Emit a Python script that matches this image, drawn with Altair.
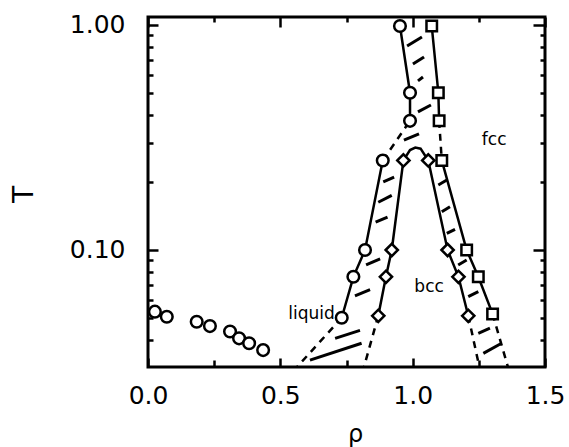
import altair as alt
import pandas as pd

# ---------------- data ----------------
# low-density liquid/gas state points (open circles, unconnected)
gas_rho = [0.026, 0.071, 0.184, 0.234, 0.310, 0.344, 0.382, 0.435]
gas_T = [0.0532, 0.0505, 0.0480, 0.0459, 0.0434, 0.0405, 0.0385, 0.0359]

# liquid-side coexistence boundary (circles)
liq_rho = [0.732, 0.776, 0.820, 0.887, 0.990, 0.990, 0.952]
liq_T = [0.050, 0.076, 0.100, 0.250, 0.375, 0.500, 0.990]

# fcc-side boundary (squares)
fcc_rho = [1.072, 1.097, 1.100, 1.110, 1.204, 1.248, 1.302]
fcc_T = [0.990, 0.500, 0.375, 0.250, 0.100, 0.076, 0.052]

# bcc boundaries (diamonds)
bccL_rho = [0.965, 0.921, 0.899, 0.870]
bccL_T = [0.250, 0.100, 0.076, 0.051]
bccR_rho = [1.059, 1.132, 1.173, 1.210]
bccR_T = [0.250, 0.100, 0.076, 0.051]

# top of the bcc region
arc_rho = [0.965, 0.990, 1.010, 1.030, 1.059]
arc_T = [0.250, 0.278, 0.285, 0.282, 0.250]

# extrapolated (dashed) ends at the bottom of the plot: liquid, bccL, bccR, fcc
ext_rho = [0.563, 0.816, 1.252, 1.360]
ext_T = [0.0302, 0.0302, 0.0302, 0.0302]

# hatch strokes in the coexistence regions
h_rho1 = [0.979, 1.001, 1.020, 1.020, 0.967,
          0.889, 0.870, 0.860, 0.824, 0.782, 0.707, 0.612,
          1.097, 1.110, 1.129, 1.172, 1.210, 1.248, 1.267]
h_T1 = [0.807, 0.671, 0.564, 0.411, 0.308,
        0.201, 0.163, 0.133, 0.0858, 0.0625, 0.0405, 0.0324,
        0.1945, 0.148, 0.1186, 0.0858, 0.0620, 0.0426, 0.0347]
h_rho2 = [1.035, 1.043, 1.039, 1.069, 1.024,
          0.930, 0.921, 0.905, 0.877, 0.839, 0.801, 0.807,
          1.129, 1.141, 1.160, 1.204, 1.248, 1.292, 1.336]
h_T2 = [0.884, 0.721, 0.587, 0.441, 0.328,
        0.211, 0.175, 0.140, 0.0912, 0.0667, 0.0439, 0.0385,
        0.2047, 0.1557, 0.1236, 0.0902, 0.0653, 0.0449, 0.0385]

# phase labels
lab_text = ["liquid", "bcc", "fcc"]
lab_rho = [0.618, 1.062, 1.308]
lab_T = [0.0494, 0.0653, 0.293]

# axes
x_major = [0.0, 0.5, 1.0, 1.5]
x_minor = [0.25, 0.75, 1.25]
y_major = [0.1, 1.0]
y_minor = [0.04, 0.05, 0.06, 0.07, 0.08, 0.09, 0.2, 0.3, 0.4, 0.5, 0.6, 0.7, 0.8, 0.9]
XDOM = [0.0, 1.5]
YDOM = [0.0302, 1.085]

FONT = "DejaVu Sans"

# ---------------- tables ----------------
def paths(lst):
    rows = []
    for pid, (rs, ts) in enumerate(lst):
        for k, (r, t) in enumerate(zip(rs, ts)):
            rows.append({"pid": pid, "k": k, "rho": r, "T": t})
    return pd.DataFrame(rows)

solid_df = paths([
    (liq_rho[0:4], liq_T[0:4]),
    (liq_rho[4:7], liq_T[4:7]),
    (fcc_rho[0:3], fcc_T[0:3]),
    (fcc_rho[3:7], fcc_T[3:7]),
    (bccL_rho, bccL_T),
    (bccR_rho, bccR_T),
    (arc_rho, arc_T),
])
dashed_df = paths([
    (liq_rho[3:5], liq_T[3:5]),
    (fcc_rho[2:4], fcc_T[2:4]),
    ([liq_rho[0], ext_rho[0]], [liq_T[0], ext_T[0]]),
    ([bccL_rho[-1], ext_rho[1]], [bccL_T[-1], ext_T[1]]),
    ([bccR_rho[-1], ext_rho[2]], [bccR_T[-1], ext_T[2]]),
    ([fcc_rho[-1], ext_rho[3]], [fcc_T[-1], ext_T[3]]),
])
hatch_df = pd.DataFrame({"rho": h_rho1, "T": h_T1, "rho2": h_rho2, "T2": h_T2})
circ_df = pd.DataFrame({"rho": gas_rho + liq_rho, "T": gas_T + liq_T})
sq_df = pd.DataFrame({"rho": fcc_rho, "T": fcc_T})
dia_df = pd.DataFrame({"rho": bccL_rho + bccR_rho, "T": bccL_T + bccR_T})
lab_df = pd.DataFrame({"rho": lab_rho, "T": lab_T, "label": lab_text})


def xs():
    return alt.Scale(domain=XDOM, nice=False, zero=False)


def ys():
    return alt.Scale(type="log", domain=YDOM, nice=False)


def tick_axis(orient, values, size):
    return alt.Axis(orient=orient, values=values, tickSize=size, offset=-size,
                    domain=False, grid=False, labels=False, ticks=True,
                    tickColor="black", tickWidth=2.5, title=None)


x_main = alt.Axis(orient="bottom", values=x_major, format=".1f", tickSize=9, offset=-9,
                  domain=False, grid=False, tickColor="black", tickWidth=2.5,
                  labelFont=FONT, labelFontSize=25, labelColor="black", labelPadding=16,
                  labelFlush=False, labelOverlap=False,
                  title="ρ", titleFont=FONT, titleFontSize=24, titleFontWeight="normal",
                  titleColor="black", titleX=207, titleY=83, titleAngle=0,
                  titleAlign="center", titleBaseline="alphabetic")
y_main = alt.Axis(orient="left", values=y_major, format=".2f", tickSize=10, offset=-10,
                  domain=False, grid=False, tickColor="black", tickWidth=2.5,
                  labelFont=FONT, labelFontSize=25, labelColor="black", labelPadding=23,
                  labelOverlap=False,
                  title="T", titleFont=FONT, titleFontSize=28, titleFontWeight="normal",
                  titleColor="black", titleX=-134, titleY=177, titleAngle=270,
                  titleAlign="center", titleBaseline="middle")

hatch = alt.Chart(hatch_df).mark_rule(color="black", strokeWidth=3).encode(
    x=alt.X("rho:Q", scale=xs(), axis=x_main),
    y=alt.Y("T:Q", scale=ys(), axis=y_main),
    x2="rho2:Q", y2="T2:Q")

solid = alt.Chart(solid_df).mark_line(color="black", strokeWidth=2.5).encode(
    x=alt.X("rho:Q", scale=xs(), axis=tick_axis("bottom", x_minor, 7)),
    y=alt.Y("T:Q", scale=ys(), axis=tick_axis("left", y_minor, 5)),
    detail="pid:N", order="k:Q")

dashed = alt.Chart(dashed_df).mark_line(color="black", strokeWidth=2.5, strokeDash=[7, 6]).encode(
    x=alt.X("rho:Q", scale=xs(), axis=tick_axis("top", x_major, 10)),
    y=alt.Y("T:Q", scale=ys(), axis=tick_axis("right", y_major, 12)),
    detail="pid:N", order="k:Q")

circles = alt.Chart(circ_df).mark_point(shape="circle", size=135, filled=True, fill="white",
                                        stroke="black", strokeWidth=2.5, opacity=1).encode(
    x=alt.X("rho:Q", scale=xs(), axis=tick_axis("top", x_minor, 5)),
    y=alt.Y("T:Q", scale=ys(), axis=tick_axis("right", y_minor, 5)))

squares = alt.Chart(sq_df).mark_point(shape="square", size=110, filled=True, fill="white",
                                      stroke="black", strokeWidth=2.5, opacity=1).encode(
    x=alt.X("rho:Q", scale=xs(), axis=None),
    y=alt.Y("T:Q", scale=ys(), axis=None))

diamonds = alt.Chart(dia_df).mark_point(shape="diamond", size=150, filled=True, fill="white",
                                        stroke="black", strokeWidth=2.5, opacity=1).encode(
    x=alt.X("rho:Q", scale=xs(), axis=None),
    y=alt.Y("T:Q", scale=ys(), axis=None))

labels = alt.Chart(lab_df).mark_text(font=FONT, fontSize=17, color="black",
                                     align="center", baseline="alphabetic").encode(
    x=alt.X("rho:Q", scale=xs(), axis=None),
    y=alt.Y("T:Q", scale=ys(), axis=None),
    text="label:N")

chart = alt.layer(hatch, solid, dashed, circles, squares, diamonds, labels).resolve_axis(
    x="independent", y="independent"
).properties(
    width=397, height=350, autosize="none",
    padding={"left": 148, "top": 17, "right": 24, "bottom": 80},
    background="white",
).configure_view(stroke="black", strokeWidth=3)

chart.save("out.html", embed_options={"renderer": "svg", "actions": False})
